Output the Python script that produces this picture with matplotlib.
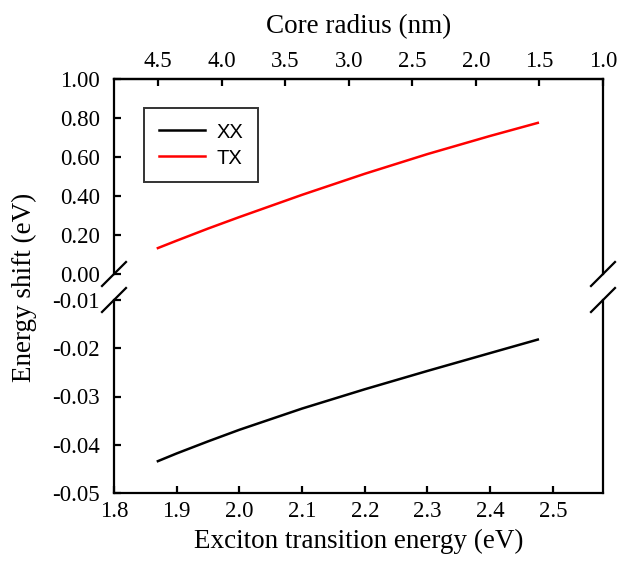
import numpy as np
import matplotlib
matplotlib.use('Agg')
from matplotlib import pyplot as plt
from matplotlib.ticker import FormatStrFormatter

# values
energy = [1.87, 1.90, 1.95, 2.00, 2.10, 2.20, 2.30, 2.40, 2.476]
xx_shift = [-0.0434, -0.0418, -0.0393, -0.0369, -0.0325, -0.0285, -0.0247, -0.0210, -0.0182]
tx_shift = [0.133, 0.171, 0.233, 0.292, 0.406, 0.514, 0.615, 0.708, 0.775]

energy_ticks = [1.8, 1.9, 2.0, 2.1, 2.2, 2.3, 2.4, 2.5]
radius_ticks = [4.5, 4.0, 3.5, 3.0, 2.5, 2.0, 1.5, 1.0]
top_yticks = [0.0, 0.2, 0.4, 0.6, 0.8, 1.0]
bot_yticks = [-0.05, -0.04, -0.03, -0.02, -0.01]

plt.rcParams['font.family'] = ['Liberation Serif', 'DejaVu Serif']

W, H = 620, 562
fig = plt.figure(figsize=(W / 100, H / 100), dpi=100)

x0, x1 = 114, 603
ax_t = fig.add_axes([x0 / W, 1 - 274 / H, (x1 - x0) / W, (274 - 79) / H])
ax_b = fig.add_axes([x0 / W, 1 - 493 / H, (x1 - x0) / W, (493 - 300) / H])

lw = 1.6
ax_b.plot(energy, xx_shift, color='black', lw=1.8, label='XX')
ax_t.plot(energy, tx_shift, color='red', lw=1.8, label='TX')

for ax in (ax_t, ax_b):
    ax.set_xlim(1.8, 2.58)
    for s in ax.spines.values():
        s.set_linewidth(lw)
    ax.tick_params(direction='in', length=5, width=lw, labelsize=16.5, right=False)
    ax.tick_params(axis='y', pad=10)

ax_t.set_ylim(0, 1.0)
ax_t.set_yticks(top_yticks)
ax_t.yaxis.set_major_formatter(FormatStrFormatter('%.2f'))
ax_t.spines['bottom'].set_visible(False)

ax_b.set_ylim(-0.05, -0.01)
ax_b.set_yticks(bot_yticks)
ax_b.set_yticklabels(['%.2f' % v for v in bot_yticks])
ax_b.spines['top'].set_visible(False)
ax_b.set_xticks(energy_ticks)
ax_b.set_xticklabels(['%.1f' % v for v in energy_ticks])
ax_b.tick_params(axis='x', pad=6)
ax_b.set_xlabel('Exciton transition energy (eV)', fontsize=19.5, labelpad=5)

# top axis: core radius, linear in pixel position
ax_r = ax_t.twiny()
ax_r.set_xlim(4.846, 1.0)
ax_r.set_xticks(radius_ticks)
ax_r.set_xticklabels(['%.1f' % v for v in radius_ticks])
ax_r.tick_params(direction='in', length=5, width=lw, labelsize=16.5, pad=5,
                 bottom=False, labelbottom=False)
for s in ax_r.spines.values():
    s.set_visible(False)
ax_r.spines['top'].set_visible(True)
ax_r.spines['top'].set_linewidth(lw)
ax_r.set_xlabel('Core radius (nm)', fontsize=19.5, labelpad=13)
ax_t.tick_params(axis='x', bottom=False, labelbottom=False, top=False, labeltop=False)

fig.text(24 / W, 1 - 287 / H, 'Energy shift (eV)', rotation=90, fontsize=19.5,
         ha='center', va='center')

# break marks
d = 12
for xp in (x0, x1):
    for yp in (274, 300):
        fig.add_artist(plt.Line2D([(xp - d) / W, (xp + d) / W],
                                  [1 - (yp + d) / H, 1 - (yp - d) / H],
                                  color='black', lw=lw, transform=fig.transFigure))

h1, l1 = ax_b.get_legend_handles_labels()
h2, l2 = ax_t.get_legend_handles_labels()
leg = ax_t.legend(h1 + h2, l1 + l2, loc='upper left',
                  bbox_to_anchor=(144 / W, 1 - 108 / H), bbox_transform=fig.transFigure,
                  borderaxespad=0, prop={'family': 'Liberation Sans', 'size': 14.5},
                  frameon=True, fancybox=False, edgecolor='black', handlelength=2.3,
                  borderpad=0.72, labelspacing=0.35, handletextpad=0.6)
leg.get_frame().set_linewidth(1.4)

fig.savefig('out.png', dpi=100)
